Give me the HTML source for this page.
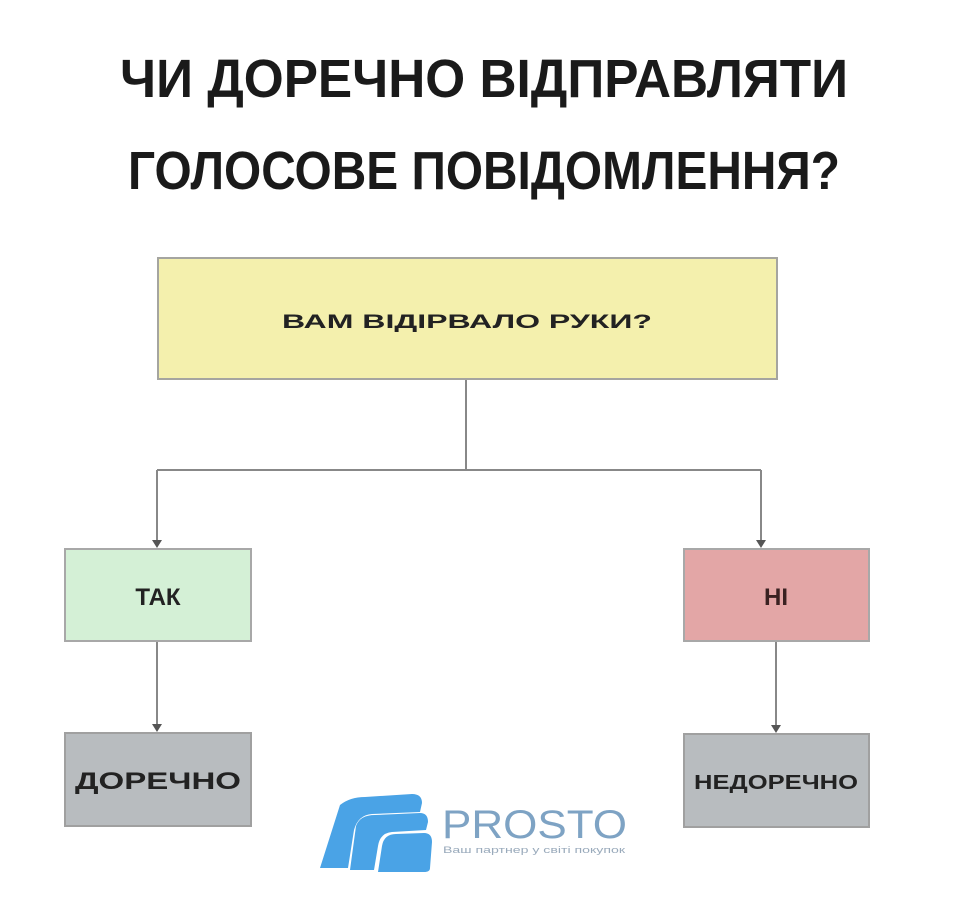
<!DOCTYPE html>
<html><head><meta charset="utf-8"><style>body{margin:0;background:#fff}svg{display:block}</style></head>
<body>
<svg width="960" height="900" viewBox="0 0 960 900" xmlns="http://www.w3.org/2000/svg" font-family="'Liberation Sans', sans-serif" font-weight="bold">
<rect width="960" height="900" fill="#fff"/>
<text x="120" y="97" font-size="54" fill="#1a1a1a" textLength="728" lengthAdjust="spacingAndGlyphs">ЧИ ДОРЕЧНО ВІДПРАВЛЯТИ</text>
<text x="128" y="189" font-size="54" fill="#1a1a1a" textLength="712" lengthAdjust="spacingAndGlyphs">ГОЛОСОВЕ ПОВІДОМЛЕННЯ?</text>
<rect x="158" y="258" width="619" height="121" fill="#f4f0ad" stroke="#a5a5a0" stroke-width="2"/>
<text x="467" y="328" font-size="19" text-anchor="middle" fill="#222" textLength="370" lengthAdjust="spacingAndGlyphs">ВАМ ВІДІРВАЛО РУКИ?</text>
<g stroke="#888" stroke-width="2" fill="none">
<path d="M466 380 V470 M157 470 H761 M157 470 V542 M761 470 V542 M157 642 V726 M776 642 V727"/>
</g>
<g fill="#555">
<path d="M152 540 L162 540 L157 548Z M756 540 L766 540 L761 548Z M152 724 L162 724 L157 732Z M771 725 L781 725 L776 733Z"/>
</g>
<rect x="65" y="549" width="186" height="92" fill="#d4f0d6" stroke="#a8a8a8" stroke-width="2"/>
<text x="158" y="605" font-size="24" text-anchor="middle" fill="#222">ТАК</text>
<rect x="684" y="549" width="185" height="92" fill="#e3a6a6" stroke="#a8a8a8" stroke-width="2"/>
<text x="776" y="605" font-size="24" text-anchor="middle" fill="#3a2222">НІ</text>
<rect x="65" y="733" width="186" height="93" fill="#b8bcbf" stroke="#a0a0a0" stroke-width="2"/>
<text x="158" y="789" font-size="24" text-anchor="middle" fill="#222" textLength="166" lengthAdjust="spacingAndGlyphs">ДОРЕЧНО</text>
<rect x="684" y="734" width="185" height="93" fill="#b8bcbf" stroke="#a0a0a0" stroke-width="2"/>
<text x="776" y="789" font-size="20" text-anchor="middle" fill="#222" textLength="164" lengthAdjust="spacingAndGlyphs">НЕДОРЕЧНО</text>
<g fill="#4aa3e6">
<path d="M340 805 Q350 797 365 797 L412 794 Q422 794 422 803 L420 812 L372 814 Q358 815 354 830 L348 868 L320 868 Z"/>
<path d="M356 826 Q360 815 375 815 L420 813 Q428 813 428 822 L426 830 L392 832 Q380 833 378 846 L374 870 L350 870 Z"/>
<path d="M382 846 Q384 834 396 834 L424 833 Q432 833 432 842 L430 868 Q430 872 424 872 L378 872 Z"/>
</g>
<text x="442" y="838" font-size="40" font-weight="normal" fill="#7ea3c4" textLength="185" lengthAdjust="spacingAndGlyphs">PROSTO</text>
<text x="443" y="853" font-size="9" font-weight="normal" fill="#9ab" textLength="182" lengthAdjust="spacingAndGlyphs">Ваш партнер у світі покупок</text>
</svg>
</body></html>
